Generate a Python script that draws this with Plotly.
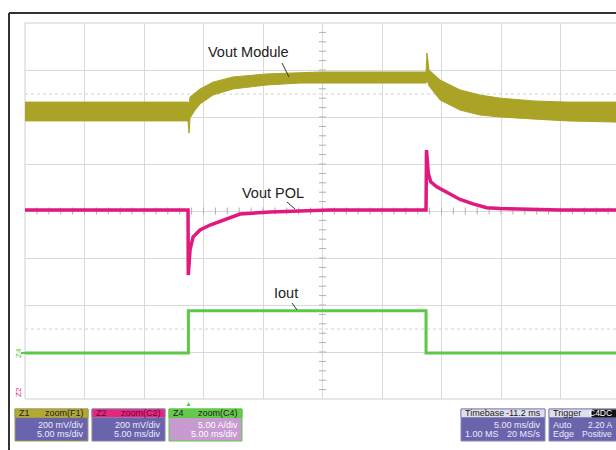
import plotly.graph_objects as go

W, H = 616, 450

# ---- waveform data (time in ms relative to the trigger) ----
# Vout Module: ripple band, upper / lower envelope in mV (200 mV/div)
module_t = [-13.7, 0.0, 0.08, 0.17, 0.59, 1.01, 2.10, 3.78, 6.64, 9.41, 11.1,
            20.0, 20.08, 20.25, 21.18, 22.86, 24.54, 26.2, 29.0, 31.85, 36.0]
module_hi = [40, 40, 32, 62, 79, 96, 125, 147, 160, 164, 168,
             168, 249, 177, 134, 92, 70, 57, 45, 40, 40]
module_lo = [-40, -40, -92, -28, 6, 32, 70, 96, 113, 121, 121,
             121, 134, 109, 49, 6, -15, -23, -32, -40, -45]

# Vout POL in mV (200 mV/div)
pol_t = [-13.7, 0.0, 0.02, 0.17, 0.42, 1.01, 1.85, 2.69, 3.53, 4.37, 6.89, 9.41, 11.9,
         20.0, 20.04, 20.19, 20.39, 20.9, 21.74, 22.86, 23.95, 25.1, 26.2, 29.0, 31.3, 36.0]
pol_mv = [0, 0, -277, -170, -115, -85, -64, -47, -30, -17, -8, -4, 0,
          0, 255, 157, 120, 99, 74, 45, 26, 10, 6, 3, 0, 0]

# Iout in A (5 A/div)
iout_t = [-13.7, 0.03, 0.03, 20.0, 20.0, 36.0]
iout_a = [0, 0, 4.5, 4.5, 0, 0]

# ---- scope settings ----
MS_PER_DIV = 5.0
MV_PER_DIV = 200.0
A_PER_DIV = 5.0
N_YDIV = 8

# screen geometry (pixels)
GRID_L, GRID_T, GRID_B = 25, 23, 399
DIV_X = 59.5
T_LEFT = -13.7
T_RIGHT = T_LEFT + (W - GRID_L) / DIV_X * MS_PER_DIV

# channel zero levels, in divisions above the bottom of the graticule
MODULE_ZERO = 6.117
POL_ZERO = 4.021
IOUT_ZERO = 0.979

OLIVE = "#aaa325"
MAGENTA = "#e1187e"
GREEN = "#5cc846"
GRID = "#d9d9d9"
BODY = "#6a64ac"

ydom = [1 - GRID_B / H, 1 - GRID_T / H]

fig = go.Figure()

# centre graticule tick marks
tc = T_LEFT + 5 * MS_PER_DIV
fig.add_trace(go.Scatter(
    x=[tc] * 39, y=[0.2 * k for k in range(1, 40)], mode="markers",
    marker=dict(symbol="line-ew", size=5, line=dict(width=1, color="#b0b0b0")),
    hoverinfo="skip", showlegend=False))
fig.add_trace(go.Scatter(
    x=[T_LEFT + k for k in range(1, 50)], y=[4] * 49, mode="markers",
    marker=dict(symbol="line-ns", size=5, line=dict(width=1, color="#b0b0b0")),
    hoverinfo="skip", showlegend=False))

# Vout Module band
fig.add_trace(go.Scatter(x=module_t, y=module_hi, yaxis="y2", mode="lines",
                         line=dict(color=OLIVE, width=1), hoverinfo="skip", showlegend=False))
fig.add_trace(go.Scatter(x=module_t, y=module_lo, yaxis="y2", mode="lines",
                         line=dict(color=OLIVE, width=1), fill="tonexty", fillcolor=OLIVE,
                         hoverinfo="skip", showlegend=False))

# Vout POL
fig.add_trace(go.Scatter(x=pol_t, y=pol_mv, yaxis="y3", mode="lines",
                         line=dict(color=MAGENTA, width=3.5), hoverinfo="skip", showlegend=False))

# Iout
fig.add_trace(go.Scatter(x=iout_t, y=iout_a, yaxis="y4", mode="lines",
                         line=dict(color=GREEN, width=3), hoverinfo="skip", showlegend=False))


def px(x, y):
    return x / W, 1 - y / H


shapes = []
annotations = []


def line(x0, y0, x1, y1, color, width=1, dash=None, layer="above"):
    a, b = px(x0, y0)
    c, d = px(x1, y1)
    shapes.append(dict(type="line", xref="paper", yref="paper", x0=a, y0=b, x1=c, y1=d,
                       line=dict(color=color, width=width, dash=dash), layer=layer))


def rect(x0, y0, x1, y1, fill, border=None):
    a, b = px(x0, y0)
    c, d = px(x1, y1)
    shapes.append(dict(type="rect", xref="paper", yref="paper", x0=a, y0=d, x1=c, y1=b,
                       fillcolor=fill, line=dict(color=border or fill, width=1), layer="above"))


def text(x, y, s, size=9, color="#222", anchor="left", family="Liberation Sans, Arial",
         angle=0):
    a, b = px(x, y)
    annotations.append(dict(xref="paper", yref="paper", x=a, y=b, text=s, showarrow=False,
                            xanchor=anchor, yanchor="middle", textangle=angle,
                            font=dict(size=size, color=color, family=family)))


# outer frame
line(9, 13, 640, 13, "#333", 2)
line(9, 13, 9, 460, "#333", 2)
# graticule border
line(GRID_L, GRID_T, 640, GRID_T, "#cfcfcf", 1, layer="below")
line(GRID_L, GRID_T, GRID_L, GRID_B, "#cfcfcf", 1, layer="below")
line(GRID_L, GRID_B, 640, GRID_B, "#cfcfcf", 1, layer="below")
# dotted reference levels
line(GRID_L, 94, 640, 94, "#d2d2d2", 1, "dot", layer="below")
line(GRID_L, 329, 640, 329, "#d2d2d2", 1, "dot", layer="below")

# trace labels and leaders
text(248.5, 52, "Vout Module", size=14.5, anchor="center")
line(282, 63, 289, 77, "#333", 1)
text(272.5, 193, "Vout POL", size=14.5, anchor="center")
line(287, 202, 295, 209, "#333", 1)
text(286, 293, "Iout", size=14.5, anchor="center")
line(292, 303, 297, 310, "#333", 1)

# channel markers at the left edge
text(18, 353, "Z4", size=8, color=GREEN, anchor="center", angle=-90)
line(21, 353, 25, 353, GREEN, 2)
text(18, 392, "Z2", size=8, color=MAGENTA, anchor="center", angle=-90)
# trigger position marker
text(188, 403, "▲", size=7, color=GREEN, anchor="center")


def panel(x0, x1, head, body, hl, hr, rows, border=None, head_txt="#222", body_txt="#ecebfa"):
    rect(x0, 409, x1, 441, body, border)
    rect(x0, 409, x1, 417.5, head, border)
    text(x0 + 2, 413, hl, color=head_txt)
    text(x1 - 2, 413, hr, color=head_txt, anchor="right")
    for i, (l, r) in enumerate(rows):
        yy = 425 + 8.5 * i
        if l:
            text(x0 + 2, yy, l, color=body_txt)
        if r:
            text(x1 - 2, yy, r, color=body_txt, anchor="right")


panel(15, 88, "#b3a931", BODY, "Z1", "zoom(F1)", [("", "200 mV/div"), ("", "5.00 ms/div")],
      border="#9f9a55")
panel(92, 165, "#e5267f", BODY, "Z2", "zoom(C2)", [("", "200 mV/div"), ("", "5.00 ms/div")],
      border="#8f7aa8", head_txt="#6a0630")
panel(169, 242, "#66c94e", "#c79bd0", "Z4", "zoom(C4)", [("", "5.00 A/div"), ("", "5.00 ms/div")],
      border=GREEN, body_txt="#ffffff")
panel(461, 545, "#dedfea", BODY, "Timebase", "-11.2 ms", [("", "5.00 ms/div"), ("1.00 MS", "20 MS/s")],
      border="#8a86b8")

# trigger panel runs to the right edge
rect(549, 409, 640, 441, BODY, "#8a86b8")
rect(549, 409, 640, 417.5, "#dedfea", "#8a86b8")
rect(592, 410, 640, 417, "#111111")
text(551, 413, "Trigger")
text(614, 413, "C4DC", size=8.5, color="#ffffff", anchor="right")
text(551, 425, "Auto", color="#ecebfa")
text(614, 425, "2.20 A", size=8.5, color="#ecebfa", anchor="right")
text(551, 433.5, "Edge", color="#ecebfa")
text(614, 433.5, "Positive", size=8.5, color="#ecebfa", anchor="right")

hidden = dict(showgrid=False, zeroline=False, showticklabels=False, showline=False,
              ticks="", overlaying="y", domain=ydom)

fig.update_layout(
    width=W, height=H, margin=dict(l=0, r=0, t=0, b=0),
    paper_bgcolor="white", plot_bgcolor="white",
    xaxis=dict(domain=[GRID_L / W, 1], range=[T_LEFT, T_RIGHT], tick0=T_LEFT, dtick=MS_PER_DIV,
               showgrid=True, gridcolor=GRID, gridwidth=1, zeroline=False,
               showticklabels=False, ticks="", showline=False),
    yaxis=dict(domain=ydom, range=[0, N_YDIV], dtick=1, showgrid=True, gridcolor=GRID,
               zeroline=False, showticklabels=False, ticks="", showline=False),
    yaxis2=dict(range=[-MODULE_ZERO * MV_PER_DIV, (N_YDIV - MODULE_ZERO) * MV_PER_DIV], **hidden),
    yaxis3=dict(range=[-POL_ZERO * MV_PER_DIV, (N_YDIV - POL_ZERO) * MV_PER_DIV], **hidden),
    yaxis4=dict(range=[-IOUT_ZERO * A_PER_DIV, (N_YDIV - IOUT_ZERO) * A_PER_DIV], **hidden),
    shapes=shapes, annotations=annotations, showlegend=False,
)

fig.write_html("out.html")
